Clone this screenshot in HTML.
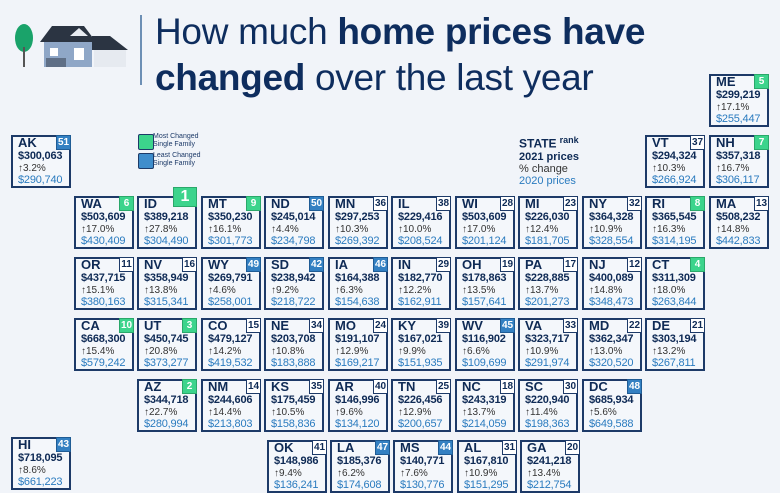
<!DOCTYPE html>
<html><head><meta charset="utf-8"><style>
body{margin:0;width:780px;height:490px;overflow:hidden;background:#f1f4f9;font-family:"Liberation Sans",sans-serif;position:relative;color:#0e2a55}
.t{position:absolute;width:56px;height:49px;border:2px solid #1d3a68;background:#f4f7fb;box-sizing:content-box}
.t b,.t p,.t s,.t u{position:absolute;left:5px;margin:0;white-space:nowrap}
.t b{top:-1px;font-size:13px;line-height:13px;font-weight:bold}
.t i{position:absolute;right:-2px;top:-2px;width:13px;height:13px;border:1.5px solid #1d3a68;background:#fff;font-style:normal;font-size:10px;line-height:13px;text-align:center;box-sizing:content-box;font-weight:bold}
.g i{background:#3cd48c;color:#fff;border-color:#2aa86a}
.bl i{background:#3380c2;color:#fff;border-color:#1f5c95}
.t p{top:14px;font-size:11px;line-height:11px;font-weight:bold;letter-spacing:-0.2px}
.t s{top:27px;text-decoration:none;font-size:10px;line-height:10px;color:#333}
.t u{top:38px;text-decoration:none;font-size:11px;line-height:11px;color:#2a7bbf;letter-spacing:-0.2px}
.one i{width:22px;height:18px;top:-11px;font-size:16px;line-height:18px}
</style></head><body>
<svg style="position:absolute;left:12px;top:22px" width="120" height="48">
<ellipse cx="12" cy="16" rx="9" ry="14" fill="#1aa36a"/><rect x="11" y="25" width="2" height="20" fill="#555"/>
<polygon points="28,20 40,4 72,4 84,20" fill="#2b3442"/><rect x="32" y="20" width="48" height="25" fill="#8fa7c7"/>
<polygon points="58,14 67,6 76,14" fill="#e8ecf2"/>
<polygon points="80,14 98,14 116,28 80,28" fill="#2b3442"/><rect x="82" y="28" width="32" height="17" fill="#e6eaf0"/>
<rect x="38" y="26" width="8" height="8" fill="#fff"/><rect x="62" y="26" width="10" height="12" fill="#fff"/><rect x="34" y="36" width="20" height="9" fill="#5f6f86"/>
</svg>
<div style="position:absolute;left:140px;top:15px;width:2px;height:70px;background:#6d8fb5"></div>
<div style="position:absolute;left:155px;top:9px;font-size:37px;line-height:46px;color:#0e2d5e;letter-spacing:-0.3px">How much <b>home prices have</b><br><b>changed</b> over the last year</div>
<div style="position:absolute;left:138px;top:134px;width:14px;height:14px;background:#3cd48c;border:1.5px solid #1d3a68;border-radius:2px"></div>
<div style="position:absolute;left:153px;top:133px;font-size:7px;line-height:8px;color:#1d3a68">Most Changed<br>Single Family</div>
<div style="position:absolute;left:138px;top:153px;width:14px;height:14px;background:#3f8dcc;border:1.5px solid #1d3a68;border-radius:2px"></div>
<div style="position:absolute;left:153px;top:152px;font-size:7px;line-height:8px;color:#1d3a68">Least Changed<br>Single Family</div>
<div style="position:absolute;left:519px;top:134px;font-size:11px;line-height:12px;color:#0e2a55"><b style="font-size:12px">STATE</b> <sup style="font-size:9px;font-weight:bold">rank</sup><br><b>2021 prices</b><br><span style="color:#333">% change</span><br><span style="color:#2a7bbf">2020 prices</span></div>

<div class="t g" style="left:709px;top:74px"><b>ME</b><i>5</i><p>$299,219</p><s>↑17.1%</s><u>$255,447</u></div>
<div class="t bl" style="left:11px;top:135px"><b>AK</b><i>51</i><p>$300,063</p><s>↑3.2%</s><u>$290,740</u></div>
<div class="t" style="left:645px;top:135px"><b>VT</b><i>37</i><p>$294,324</p><s>↑10.3%</s><u>$266,924</u></div>
<div class="t g" style="left:709px;top:135px"><b>NH</b><i>7</i><p>$357,318</p><s>↑16.7%</s><u>$306,117</u></div>

<div class="t g" style="left:74px;top:196px"><b>WA</b><i>6</i><p>$503,609</p><s>↑17.0%</s><u>$430,409</u></div>
<div class="t g one" style="left:137px;top:196px"><b>ID</b><i>1</i><p>$389,218</p><s>↑27.8%</s><u>$304,490</u></div>
<div class="t g" style="left:201px;top:196px"><b>MT</b><i>9</i><p>$350,230</p><s>↑16.1%</s><u>$301,773</u></div>
<div class="t bl" style="left:264px;top:196px"><b>ND</b><i>50</i><p>$245,014</p><s>↑4.4%</s><u>$234,798</u></div>
<div class="t" style="left:328px;top:196px"><b>MN</b><i>36</i><p>$297,253</p><s>↑10.3%</s><u>$269,392</u></div>
<div class="t" style="left:391px;top:196px"><b>IL</b><i>38</i><p>$229,416</p><s>↑10.0%</s><u>$208,524</u></div>
<div class="t" style="left:455px;top:196px"><b>WI</b><i>28</i><p>$503,609</p><s>↑17.0%</s><u>$201,124</u></div>
<div class="t" style="left:518px;top:196px"><b>MI</b><i>23</i><p>$226,030</p><s>↑12.4%</s><u>$181,705</u></div>
<div class="t" style="left:582px;top:196px"><b>NY</b><i>32</i><p>$364,328</p><s>↑10.9%</s><u>$328,554</u></div>
<div class="t g" style="left:645px;top:196px"><b>RI</b><i>8</i><p>$365,545</p><s>↑16.3%</s><u>$314,195</u></div>
<div class="t" style="left:709px;top:196px"><b>MA</b><i>13</i><p>$508,232</p><s>↑14.8%</s><u>$442,833</u></div>

<div class="t" style="left:74px;top:257px"><b>OR</b><i>11</i><p>$437,715</p><s>↑15.1%</s><u>$380,163</u></div>
<div class="t" style="left:137px;top:257px"><b>NV</b><i>16</i><p>$358,949</p><s>↑13.8%</s><u>$315,341</u></div>
<div class="t bl" style="left:201px;top:257px"><b>WY</b><i>49</i><p>$269,791</p><s>↑4.6%</s><u>$258,001</u></div>
<div class="t bl" style="left:264px;top:257px"><b>SD</b><i>42</i><p>$238,942</p><s>↑9.2%</s><u>$218,722</u></div>
<div class="t bl" style="left:328px;top:257px"><b>IA</b><i>46</i><p>$164,388</p><s>↑6.3%</s><u>$154,638</u></div>
<div class="t" style="left:391px;top:257px"><b>IN</b><i>29</i><p>$182,770</p><s>↑12.2%</s><u>$162,911</u></div>
<div class="t" style="left:455px;top:257px"><b>OH</b><i>19</i><p>$178,863</p><s>↑13.5%</s><u>$157,641</u></div>
<div class="t" style="left:518px;top:257px"><b>PA</b><i>17</i><p>$228,885</p><s>↑13.7%</s><u>$201,273</u></div>
<div class="t" style="left:582px;top:257px"><b>NJ</b><i>12</i><p>$400,089</p><s>↑14.8%</s><u>$348,473</u></div>
<div class="t g" style="left:645px;top:257px"><b>CT</b><i>4</i><p>$311,309</p><s>↑18.0%</s><u>$263,844</u></div>

<div class="t g" style="left:74px;top:318px"><b>CA</b><i>10</i><p>$668,300</p><s>↑15.4%</s><u>$579,242</u></div>
<div class="t g" style="left:137px;top:318px"><b>UT</b><i>3</i><p>$450,745</p><s>↑20.8%</s><u>$373,277</u></div>
<div class="t" style="left:201px;top:318px"><b>CO</b><i>15</i><p>$479,127</p><s>↑14.2%</s><u>$419,532</u></div>
<div class="t" style="left:264px;top:318px"><b>NE</b><i>34</i><p>$203,708</p><s>↑10.8%</s><u>$183,888</u></div>
<div class="t" style="left:328px;top:318px"><b>MO</b><i>24</i><p>$191,107</p><s>↑12.9%</s><u>$169,217</u></div>
<div class="t" style="left:391px;top:318px"><b>KY</b><i>39</i><p>$167,021</p><s>↑9.9%</s><u>$151,935</u></div>
<div class="t bl" style="left:455px;top:318px"><b>WV</b><i>45</i><p>$116,902</p><s>↑6.6%</s><u>$109,699</u></div>
<div class="t" style="left:518px;top:318px"><b>VA</b><i>33</i><p>$323,717</p><s>↑10.9%</s><u>$291,974</u></div>
<div class="t" style="left:582px;top:318px"><b>MD</b><i>22</i><p>$362,347</p><s>↑13.0%</s><u>$320,520</u></div>
<div class="t" style="left:645px;top:318px"><b>DE</b><i>21</i><p>$303,194</p><s>↑13.2%</s><u>$267,811</u></div>

<div class="t g" style="left:137px;top:379px"><b>AZ</b><i>2</i><p>$344,718</p><s>↑22.7%</s><u>$280,994</u></div>
<div class="t" style="left:201px;top:379px"><b>NM</b><i>14</i><p>$244,606</p><s>↑14.4%</s><u>$213,803</u></div>
<div class="t" style="left:264px;top:379px"><b>KS</b><i>35</i><p>$175,459</p><s>↑10.5%</s><u>$158,836</u></div>
<div class="t" style="left:328px;top:379px"><b>AR</b><i>40</i><p>$146,996</p><s>↑9.6%</s><u>$134,120</u></div>
<div class="t" style="left:391px;top:379px"><b>TN</b><i>25</i><p>$226,456</p><s>↑12.9%</s><u>$200,657</u></div>
<div class="t" style="left:455px;top:379px"><b>NC</b><i>18</i><p>$243,319</p><s>↑13.7%</s><u>$214,059</u></div>
<div class="t" style="left:518px;top:379px"><b>SC</b><i>30</i><p>$220,940</p><s>↑11.4%</s><u>$198,363</u></div>
<div class="t bl" style="left:582px;top:379px"><b>DC</b><i>48</i><p>$685,934</p><s>↑5.6%</s><u>$649,588</u></div>

<div class="t bl" style="left:11px;top:437px"><b>HI</b><i>43</i><p>$718,095</p><s>↑8.6%</s><u>$661,223</u></div>
<div class="t" style="left:267px;top:440px"><b>OK</b><i>41</i><p>$148,986</p><s>↑9.4%</s><u>$136,241</u></div>
<div class="t bl" style="left:330px;top:440px"><b>LA</b><i>47</i><p>$185,376</p><s>↑6.2%</s><u>$174,608</u></div>
<div class="t bl" style="left:393px;top:440px"><b>MS</b><i>44</i><p>$140,771</p><s>↑7.6%</s><u>$130,776</u></div>
<div class="t" style="left:457px;top:440px"><b>AL</b><i>31</i><p>$167,810</p><s>↑10.9%</s><u>$151,295</u></div>
<div class="t" style="left:520px;top:440px"><b>GA</b><i>20</i><p>$241,218</p><s>↑13.4%</s><u>$212,754</u></div>
</body></html>
